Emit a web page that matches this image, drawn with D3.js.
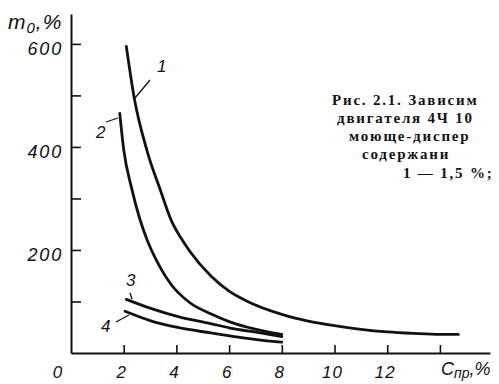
<!DOCTYPE html>
<html>
<head>
<meta charset="utf-8">
<script src="https://cdn.jsdelivr.net/npm/d3@7/dist/d3.min.js"></script>
<style>
  html, body { margin: 0; padding: 0; background: #fff; }
  svg { display: block; }
  .num { font-family: "Liberation Sans", Arial, sans-serif; font-style: italic; fill: #111; }
  .cap { font-family: "Liberation Serif", "Times New Roman", serif; font-weight: bold; fill: #111; }
</style>
</head>
<body>
<svg id="chart" width="499" height="384"></svg>
<script>
// Concentration of additive, % (x) and relative value m0, % (y) for curves 1–4
const curve1X = [2.1, 2.4, 2.9, 3.4, 3.8, 4.15, 4.5, 5.3, 6.0, 6.7, 8.0, 9.0, 10.0, 11.0, 12.0, 13.0, 14.0, 14.7];
const curve1Y = [595, 495, 390, 315, 258, 225, 198, 150, 120, 100, 75, 62, 53, 46, 41, 38, 36, 36];
const curve2X = [1.85, 2.0, 2.3, 2.6, 2.9, 3.2, 3.5, 3.8, 4.5, 5.3, 6.0, 6.7, 8.0];
const curve2Y = [465, 395, 320, 262, 218, 184, 156, 133, 98, 76, 61, 50, 36];
const curve3X = [2.1, 3.0, 4.1, 5.3, 6.0, 7.2, 8.0];
const curve3Y = [104, 87, 70, 57, 49, 39, 32];
const curve4X = [2.05, 3.0, 4.0, 5.3, 6.2, 7.2, 8.0];
const curve4Y = [81, 63, 50, 39, 32, 25, 21];

const xTicks = [2, 4, 6, 8, 10, 12, 14];
const xLabelVals = [0, 2, 4, 6, 8, 10, 12];
const xTickLabels = ["0", "2", "4", "6", "8", "10", "12"];
const yTicks = [100, 200, 300, 400, 500, 600];
const yLabelVals = [200, 400, 600];
const yTickLabels = ["200", "400", "600"];

const captionLines = [
  "Рис. 2.1. Зависим",
  "двигателя 4Ч 10",
  "моюще-диспер",
  "содержани",
  "1 — 1,5 %;"
];

const svg = d3.select("#chart");

const x = d3.scaleLinear().domain([0, 15.9]).range([71, 490]);
const y = d3.scaleLinear().domain([0, 658]).range([353, 14]);

// Axes: ticks pointing into the plot
const xAxis = d3.axisBottom(x).tickValues(xTicks).tickSize(-8).tickSizeOuter(0).tickFormat("");
const yAxis = d3.axisLeft(y).tickValues(yTicks).tickSize(-10).tickSizeOuter(0).tickFormat("");

const gx = svg.append("g").attr("transform", `translate(0,${y(0)})`).call(xAxis);
const gy = svg.append("g").attr("transform", `translate(${x(0)},0)`).call(yAxis);
[gx, gy].forEach(g => {
  g.select(".domain").attr("stroke", "#111").attr("stroke-width", 2);
  g.selectAll(".tick line").attr("stroke", "#111").attr("stroke-width", 1.6);
});

// X tick labels (0 sits left of the origin)
svg.append("g").selectAll("text")
  .data(xLabelVals)
  .join("text")
  .attr("class", "num")
  .attr("x", d => (d === 0 ? x(d) - 13 : x(d) - 2))
  .attr("y", 378)
  .attr("text-anchor", "middle")
  .attr("font-size", 17)
  .attr("letter-spacing", 1)
  .text((d, i) => xTickLabels[i]);

// Y tick labels
svg.append("g").selectAll("text")
  .data(yLabelVals)
  .join("text")
  .attr("class", "num")
  .attr("x", 63)
  .attr("y", d => y(d) + 11)
  .attr("text-anchor", "end")
  .attr("font-size", 18)
  .attr("letter-spacing", 1.8)
  .text((d, i) => yTickLabels[i]);

// Axis titles
const yTitle = svg.append("text").attr("class", "num").attr("x", 8).attr("y", 29).attr("font-size", 21).attr("letter-spacing", 1);
yTitle.append("tspan").text("m");
yTitle.append("tspan").attr("font-size", 15).attr("dy", 4).text("0");
yTitle.append("tspan").attr("dy", -4).attr("font-size", 21).text(",%");

const xTitle = svg.append("text").attr("class", "num").attr("x", 441).attr("y", 375).attr("font-size", 18);
xTitle.append("tspan").text("C");
xTitle.append("tspan").attr("font-size", 14).attr("dy", 3).text("пр");
xTitle.append("tspan").attr("dy", -3).attr("font-size", 18).text(",%");

// Curves
const line = d3.line()
  .x(d => x(d[0]))
  .y(d => y(d[1]))
  .curve(d3.curveMonotoneX);

const curves = [
  [curve1X, curve1Y],
  [curve2X, curve2Y],
  [curve3X, curve3Y],
  [curve4X, curve4Y]
];
svg.append("g").selectAll("path")
  .data(curves)
  .join("path")
  .attr("d", c => line(c[0].map((v, i) => [v, c[1][i]])))
  .attr("fill", "none")
  .attr("stroke", "#111")
  .attr("stroke-width", 2.8)
  .attr("stroke-linecap", "round");

// Curve number labels with leader strokes
const curveLabels = [
  { t: "1", lx: 157, ly: 72, x1: 150, y1: 80, x2: 135, y2: 98 },
  { t: "2", lx: 96, ly: 138, x1: 106, y1: 122, x2: 118, y2: 118 },
  { t: "3", lx: 126, ly: 286, x1: 130, y1: 293, x2: 132, y2: 299 },
  { t: "4", lx: 101, ly: 332, x1: 116, y1: 322, x2: 129, y2: 315 }
];
const lg = svg.append("g");
lg.selectAll("line")
  .data(curveLabels)
  .join("line")
  .attr("x1", d => d.x1).attr("y1", d => d.y1)
  .attr("x2", d => d.x2).attr("y2", d => d.y2)
  .attr("stroke", "#111").attr("stroke-width", 1.3);
lg.selectAll("text")
  .data(curveLabels)
  .join("text")
  .attr("class", "num")
  .attr("x", d => d.lx).attr("y", d => d.ly)
  .attr("font-size", 17)
  .text(d => d.t);

// Caption block on the right
const capX = [332, 337, 349, 362, 403];
const capY = [105, 123, 141, 159, 178];
svg.append("g").selectAll("text")
  .data(captionLines)
  .join("text")
  .attr("class", "cap")
  .attr("x", (d, i) => capX[i])
  .attr("y", (d, i) => capY[i])
  .attr("font-size", 15)
  .attr("letter-spacing", 1.8)
  .text(d => d);
</script>
</body>
</html>
